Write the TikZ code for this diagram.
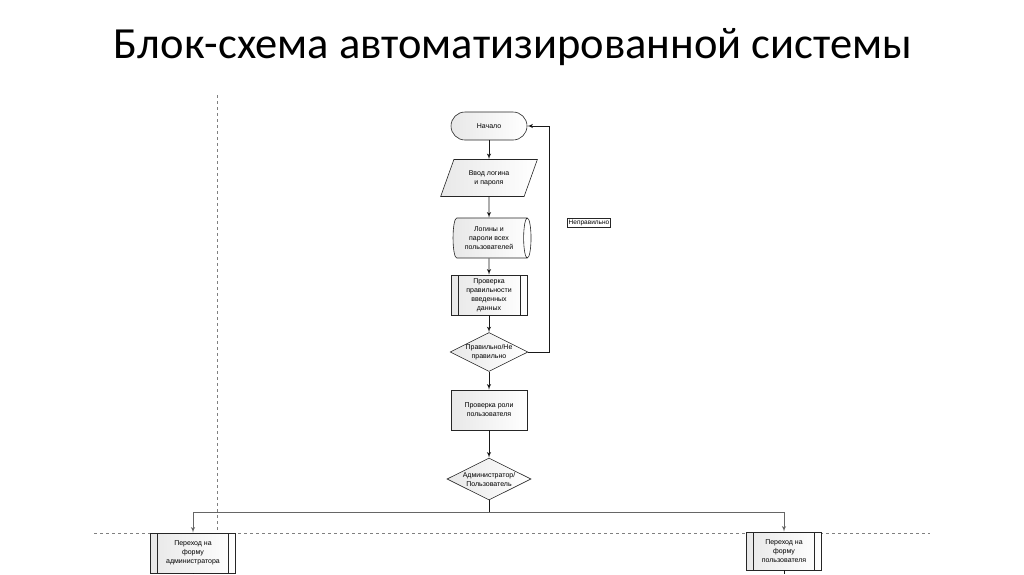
\documentclass[tikz,border=0pt]{standalone}
\usepackage{fontspec}
\setmainfont{Liberation Sans}
\newfontfamily\titlefont{Carlito}
\usepackage{tikz}
\usetikzlibrary{shapes.geometric, arrows, positioning}
\tikzstyle{term} = [rectangle, rounded corners=14pt, minimum width=76pt, minimum height=28pt, text centered, draw=black!85, line width=0.6pt, left color=gray!18, right color=white, font=\fontsize{7}{9}\selectfont]
\tikzstyle{io} = [trapezium, trapezium left angle=68, trapezium right angle=112, trapezium stretches=true, minimum width=97pt, minimum height=37pt, align=center, draw=black!85, line width=0.6pt, left color=gray!18, right color=white, font=\fontsize{7}{9}\selectfont]
\tikzstyle{store} = [cylinder, shape border rotate=0, aspect=0.25, minimum width=40pt, minimum height=78pt, align=center, draw=black!85, line width=0.6pt, left color=gray!18, right color=white, font=\fontsize{7}{9}\selectfont]
\tikzstyle{process} = [rectangle, minimum width=76pt, minimum height=40pt, align=center, draw=black!85, line width=0.6pt, left color=gray!18, right color=white, font=\fontsize{7}{9}\selectfont]
\tikzstyle{subproc} = [process, path picture={
    \draw[black!85, line width=0.6pt] ([xshift=7pt]path picture bounding box.north west) -- ([xshift=7pt]path picture bounding box.south west);
    \draw[black!85, line width=0.6pt] ([xshift=-7pt]path picture bounding box.north east) -- ([xshift=-7pt]path picture bounding box.south east);}]
\tikzstyle{decision} = [diamond, aspect=2, inner sep=0pt, minimum width=76pt, minimum height=37pt, align=center, draw=black!85, line width=0.6pt, left color=gray!18, right color=white, font=\fontsize{7}{9}\selectfont]
\tikzstyle{note} = [rectangle, draw=black!85, line width=0.6pt, inner sep=1.5pt, font=\fontsize{6.5}{8}\selectfont]
\tikzstyle{line} = [draw, black!90, line width=0.9pt, -latex']
\tikzstyle{guide} = [draw, gray, dashed, thin]

\begin{document}
\begin{tikzpicture}[x=1pt, y=-1pt, node distance = 52pt, auto]
    \useasboundingbox (0,0) rectangle (1024,574);
    % Title
    \node (title) at (513,47) {\titlefont\fontsize{44.5}{52}\selectfont Блок-схема автоматизированной системы};
    % Guides
    \coordinate (vtop) at (217,95);
    \coordinate (vbot) at (217,574);
    \coordinate (hleft) at (94,533);
    \coordinate (hright) at (930,533);
    \path [guide] (vtop) -- (vbot);
    \path [guide] (hleft) -- (hright);
    % Nodes
    \node [term] (start) at (489,126) {Начало};
    \node [io, below of=start] (input) {Ввод логина\\ и пароля};
    \node [store, below of=input, node distance=60pt] (users) {Логины и\\ пароли всех\\ пользователей};
    \node [subproc, below of=users, node distance=57pt] (check) {Проверка\\ правильности\\ введенных\\ данных};
    \node [decision, below of=check, node distance=57pt] (valid) {Правильно/Не\\ правильно};
    \node [process, below of=valid, node distance=58pt] (role) {Проверка роли\\ пользователя};
    \node [decision, below of=role, node distance=69pt, minimum width=84pt, minimum height=42pt] (choice) {Администратор/\\ Пользователь};
    \node [subproc, minimum width=85pt] (admin) at (193,553) {Переход на\\ форму\\ администратора};
    \node [subproc, minimum width=75pt, minimum height=38pt] (user) at (784,551) {Переход на\\ форму\\ пользователя};
    \node [note] (wrong) at (589,223) {Неправильно};
    \coordinate (adminout) at (193,574);
    \coordinate (userout) at (784,574);

    % Edges
    \path [line] (start) -- (input);
    \path [line] (input) -- (users);
    \path [line] (users) -- (check);
    \path [line] (check) -- (valid);
    \path [line] (valid.east) -- ++(21,0) |- (start.east);
    \path [line] (valid) -- (role);
    \path [line] (role) -- (choice);
    \draw [black!90, line width=0.9pt] (choice.south) -- ++(0,12) coordinate (split);
    \path [line, black!60] (split) -| (admin.north);
    \path [line, black!60] (split) -| (user.north);
    \draw [black!90, line width=0.9pt] (admin.south) -- (adminout);
    \draw [black!90, line width=0.9pt] (user.south) -- (userout);
\end{tikzpicture}
\end{document}
